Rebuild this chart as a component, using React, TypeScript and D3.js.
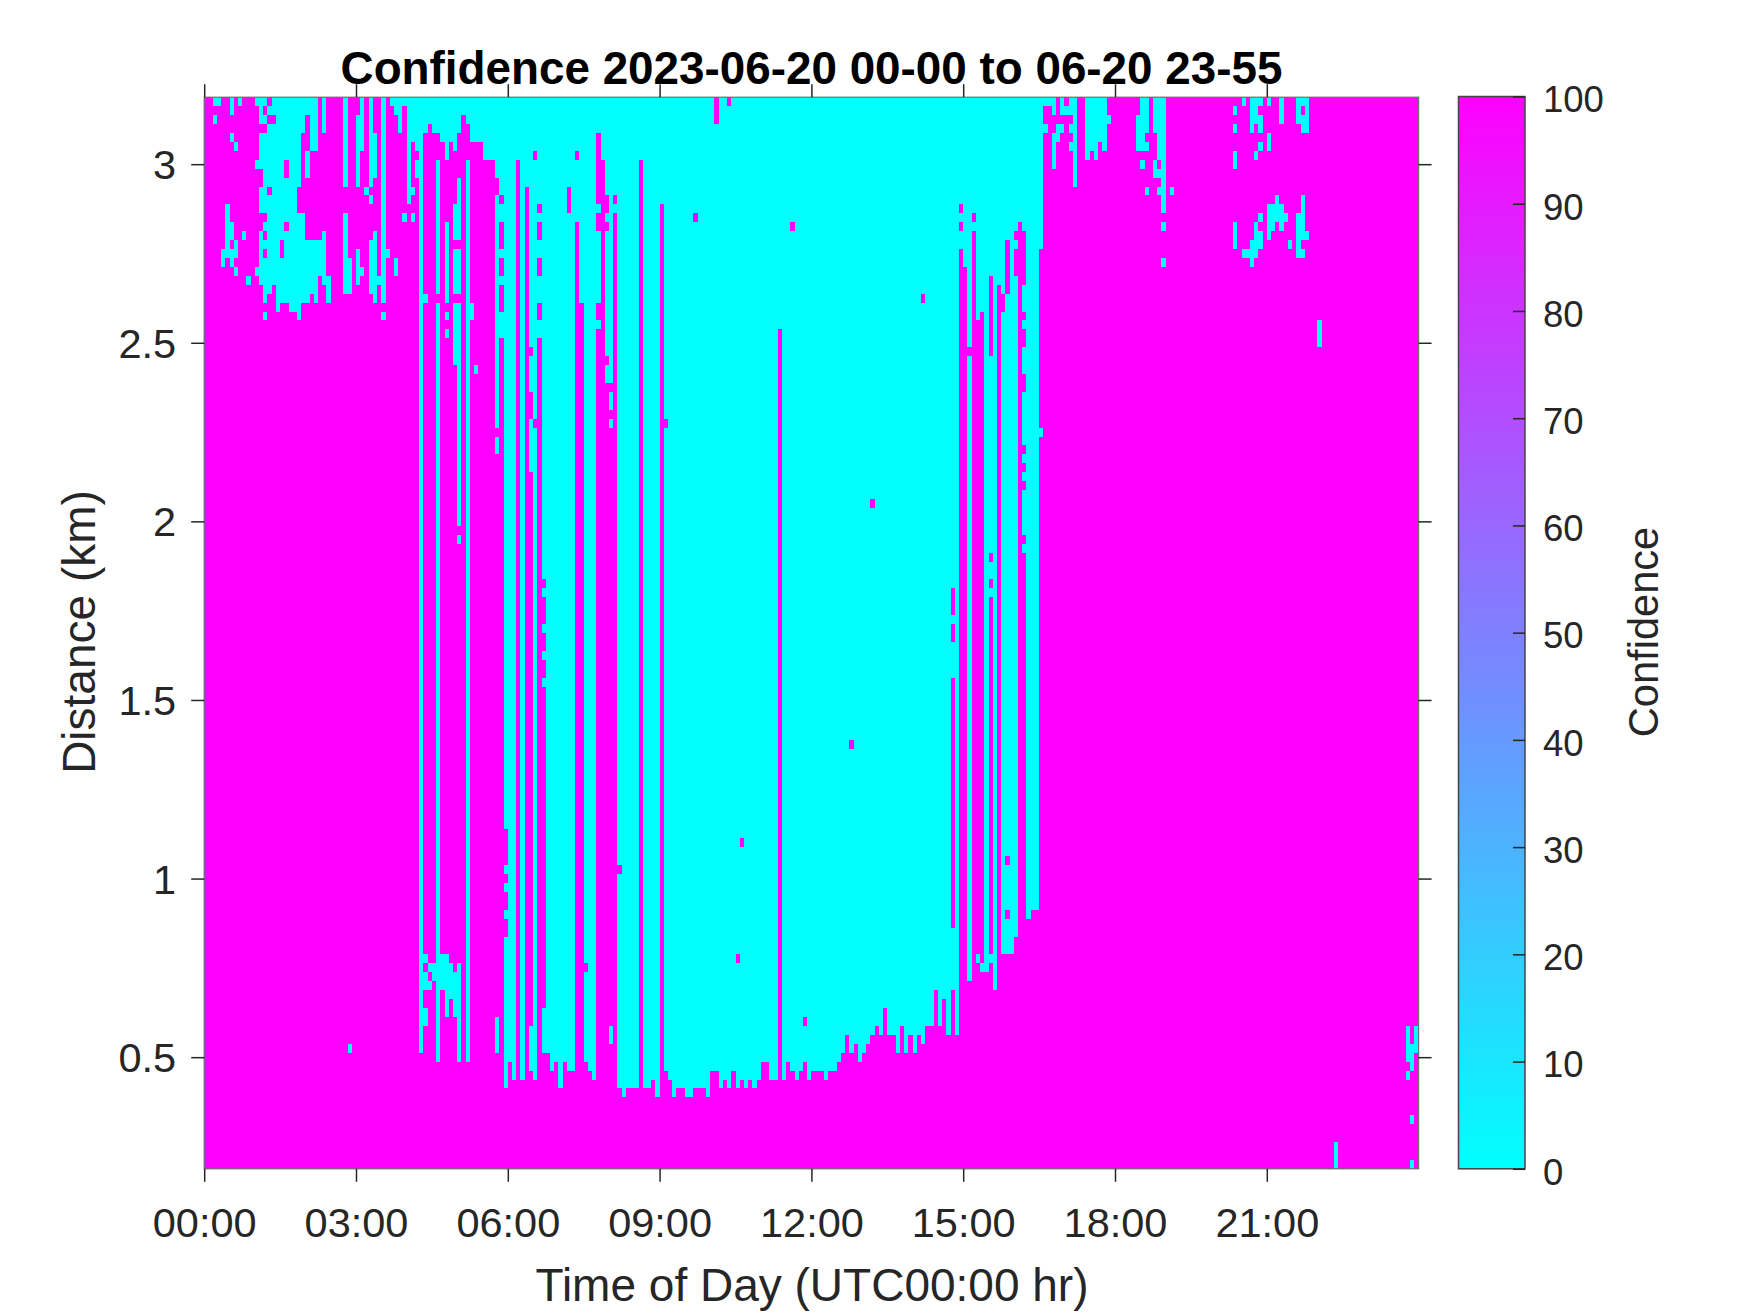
import React, { useEffect, useRef } from 'react';
import * as d3 from 'd3';

const WIDTH = 1750;
const HEIGHT = 1313;
const FONT = '"Liberation Sans", Arial, sans-serif';
const INK = '#262626';

const chartTitle = 'Confidence 2023-06-20 00-00 to 06-20 23-55';
const xAxisLabel = 'Time of Day (UTC00:00 hr)';
const yAxisLabel = 'Distance (km)';
const colorbarLabel = 'Confidence';

const timeTicks = [0, 3, 6, 9, 12, 15, 18, 21];
const distanceTicks = [0.5, 1, 1.5, 2, 2.5, 3];
const confidenceTicks = [0, 10, 20, 30, 40, 50, 60, 70, 80, 90, 100];

// grid of the scan: 5 minute profiles, 25 m range gates, gate 0 is the farthest one
const PROFILES = 288;
const GATES = 120;
const GATE_KM = 0.025;
const FAR_EDGE_KM = 3.1875;

// lowest cloud gate of each profile, starting at profile 44
const CLOUD_START = 44;
const cloudFloor = [
  0, 1, 3, 0, 11, 4, 5, 106, 3, 2, 3, 3, 4, 6, 4, 5, 3, 1, 107, 4, 4, 4, 6, 6, 6, 8, 26, 110, 107, 109,
  6, 109, 9, 108, 109, 26, 106, 106, 108, 107, 110, 107, 108, 108, 13, 22, 107, 108, 109, 3, 6, 31, 31, 12,
  110, 111, 110, 110, 110, 6, 110, 110, 109, 111, 11, 108, 109, 111, 110, 110, 111, 111, 110, 110, 110, 111,
  108, 108, 110, 109, 110, 108, 110, 109, 110, 109, 110, 109, 107, 107, 109, 109, 25, 109, 107, 108, 109,
  108, 107, 109, 108, 108, 108, 109, 108, 108, 107, 106, 104, 106, 105, 107, 106, 105, 104, 103, 104, 101,
  104, 104, 106, 103, 106, 104, 106, 104, 105, 103, 103, 99, 103, 100, 104, 99, 104, 16, 18, 98, 14, 24, 23,
  97, 96, 99, 20, 95, 95, 95, 93, 13, 50, 91, 90, 90, 16,
];

// high confidence gaps inside the cloud block: [first profile, last profile, first gate, last gate]
const clearGaps = [
  [62, 62, 3, 6], [70, 70, 11, 11], [70, 70, 14, 16], [70, 70, 18, 19], [70, 70, 21, 23],
  [71, 71, 82, 85], [71, 71, 87, 87], [71, 71, 89, 90], [71, 71, 92, 93],
  [77, 77, 28, 28], [77, 77, 33, 35], [77, 77, 42, 103], [78, 78, 6, 6], [78, 78, 36, 36],
  [79, 79, 12, 12], [79, 79, 14, 15], [79, 79, 18, 19], [79, 79, 23, 24],
  [80, 80, 54, 54], [80, 80, 56, 58], [80, 80, 60, 61], [80, 80, 63, 64], [80, 80, 66, 101],
  [86, 86, 10, 12], [88, 88, 6, 6], [90, 90, 97, 97], [95, 95, 11, 12], [95, 95, 14, 14], [95, 95, 29, 29],
  [97, 97, 11, 11], [98, 98, 86, 86], [109, 109, 36, 36], [116, 116, 13, 13], [121, 121, 0, 2], [124, 124, 0, 0],
  [126, 126, 96, 96], [127, 127, 83, 83], [139, 139, 14, 14], [142, 142, 103, 103], [153, 153, 72, 72],
  [158, 158, 45, 45], [170, 170, 22, 22], [177, 177, 55, 57], [177, 177, 59, 60], [177, 177, 65, 92],
  [179, 179, 12, 12], [179, 179, 14, 14], [181, 181, 28, 28], [182, 182, 13, 13],
  [186, 186, 20, 28], [186, 186, 51, 51], [186, 186, 54, 54], [186, 186, 56, 95],
  [189, 189, 22, 23], [190, 190, 16, 21], [190, 190, 85, 85], [190, 190, 91, 91],
  [192, 192, 15, 15], [192, 192, 17, 19], [194, 194, 15, 20], [194, 194, 24, 24], [194, 194, 26, 27],
  [194, 194, 31, 32], [194, 194, 39, 39], [194, 194, 41, 41], [194, 194, 43, 43], [194, 194, 49, 49],
];

// low confidence streaks below the floor
const cloudStreaks = [
  [47, 47, 13, 13], [49, 49, 10, 10], [49, 49, 13, 13], [50, 50, 7, 8], [52, 52, 22, 22],
  [55, 55, 7, 21], [55, 55, 23, 107], [57, 57, 14, 22], [57, 57, 24, 24], [57, 57, 26, 26],
  [59, 59, 12, 15], [59, 59, 17, 21], [59, 59, 23, 29], [60, 60, 9, 15], [60, 60, 17, 21],
  [60, 60, 23, 47], [60, 60, 49, 49], [60, 60, 97, 107], [63, 63, 23, 24], [64, 64, 30, 30],
  [69, 69, 11, 36], [69, 69, 38, 39], [69, 69, 103, 106], [93, 93, 12, 12], [93, 93, 15, 22],
  [93, 93, 25, 25], [96, 96, 33, 34], [96, 96, 36, 36], [96, 96, 104, 105], [183, 183, 96, 96],
  [184, 184, 97, 97], [198, 198, 37, 37], [34, 34, 106, 106], [264, 264, 25, 27], [268, 268, 117, 119],
  [285, 285, 104, 107], [285, 285, 109, 109], [286, 286, 106, 108], [286, 286, 114, 114],
  [286, 286, 119, 119], [287, 287, 104, 106],
];

// scattered low confidence profiles, gate by gate
const scatterByGate: [number, string][] = [
  [0, '2-3 6 8 12-14 16-26 28 33 37 39 42 199-201 203 205-206 209-213 222-223 225-227 246 248-250 252 255 259-261'],
  [1, '6 13 15-26 28 33 37 39 42 201 203-206 209-213 222-223 225-227 244 248-249 255 259 261'],
  [2, '2 13-14 17-23 25-26 28 33 36-37 39 42 206 209-214 221-223 225-227 248-250 255 259-261'],
  [3, '15-23 25-26 28 33 36-37 39 42 199 202-203 205-206 209-213 221-223 225-227 244 248 250 260-261'],
  [4, '6 13-22 25-26 33 36-37 39-40 42 201-202 206 209-213 221-222 226-227 252'],
  [5, '7 13-22 25-26 33 36-37 39-40 42 201 205-206 209-211 213 221-223 226-227 250 252'],
  [6, '13-22 24 33 36 39-40 42 201 206 209 211 226-227 249 244'],
  [7, '12-18 20-22 24 33 36 39-40 42 201 206 222 225 227 244'],
  [8, '14-18 20-22 24 33 36 39-40 42 206 225-227'],
  [9, '14-22 33 36 39 42 206 227'],
  [10, '13-14 16-21 38 42 223 226-227 229'],
  [11, '13-21 39 42 227 254 260'],
  [12, '5 13-21 42 227 252-255 260'],
  [13, '5 15-23 33 42 250 252-256 259-260'],
  [14, '5-6 14-18 20-23 33 42 227 244 249 252-253 255 259-260'],
  [15, '5-6 9 13 15-23 28 33 40 42 244 249-250 252 259-261'],
  [16, '5 7 13-17 19-28 33 39-40 42 244 248-250 257 259'],
  [17, '4-7 13 15-17 19-28 33 36 39-40 42-43 246-249 259-260'],
  [18, '4 6 13-28 33-34 36 39-40 42 45 227 248'],
  [19, '7 12-28 33-34 36-37 39-40 42 45'],
  [20, '10 13-26 28-29 33-34 36 39-42'],
  [21, '14-15 17-26 29 33-34 39-40 42'],
  [22, '14 17-24 26 29 40 42'],
  [23, '17 20-22'],
  [24, '14 22 42'],
  [96, '52 56-57'],
  [97, '53-58'],
  [98, '52 54-59'],
  [99, '52-53 56-59'],
  [100, '57-59'],
  [101, '57 59'],
  [102, '52 57 59'],
  [103, '52'],
];

// confidence matrix, [profile][gate]
const buildConfidence = () => {
  const grid = d3.range(PROFILES).map(() => d3.range(GATES).map(() => 100));
  const fill = ([c0, c1, r0, r1]: number[], value: number) => {
    for (let c = c0; c <= c1; c++) for (let r = r0; r <= r1; r++) grid[c][r] = value;
  };
  cloudFloor.forEach((floor, i) => fill([CLOUD_START + i, CLOUD_START + i, 0, floor], 0));
  clearGaps.forEach((g) => fill(g, 100));
  cloudStreaks.forEach((s) => fill(s, 0));
  scatterByGate.forEach(([gate, cols]) => {
    cols.split(' ').forEach((token) => {
      const [a, b] = token.split('-').map(Number);
      fill([a, b === undefined ? a : b, gate, gate], 0);
    });
  });
  return grid;
};

const plot = { left: 204.2, right: 1418.6, top: 97.2, bottom: 1168.8 };
const bar = { left: 1458.5, right: 1525, top: 96.5, bottom: 1168.8 };

const xScale = d3.scaleLinear().domain([0, 24]).range([plot.left, plot.right]);
const yScale = d3.scaleLinear().domain([FAR_EDGE_KM - GATES * GATE_KM, FAR_EDGE_KM]).range([plot.bottom, plot.top]);
const barScale = d3.scaleLinear().domain([0, 100]).range([bar.bottom, bar.top]);
const colorScale = d3.scaleLinear<string>().domain([0, 100]).range(['#00ffff', '#ff00ff']);

const hourLabel = (h: number) => `${String(h).padStart(2, '0')}:00`;

export default function App() {
  const bottomAxis = useRef<SVGGElement>(null);
  const topAxis = useRef<SVGGElement>(null);
  const leftAxis = useRef<SVGGElement>(null);
  const rightAxis = useRef<SVGGElement>(null);
  const barAxis = useRef<SVGGElement>(null);

  useEffect(() => {
    const style = (g: d3.Selection<SVGGElement, unknown, null, undefined>, fontSize: number) => {
      g.select('.domain').remove();
      g.selectAll('line').attr('stroke', INK).attr('stroke-width', 1.5);
      g.selectAll('text').attr('fill', INK).attr('font-family', FONT).attr('font-size', fontSize);
    };
    d3.select(bottomAxis.current!)
      .call(d3.axisBottom(xScale).tickValues(timeTicks).tickFormat((d) => hourLabel(+d)).tickSize(13).tickPadding(26))
      .call(style, 41.5);
    d3.select(topAxis.current!)
      .call(d3.axisTop(xScale).tickValues(timeTicks).tickFormat(() => '').tickSize(13))
      .call(style, 41.5);
    d3.select(leftAxis.current!)
      .call(d3.axisLeft(yScale).tickValues(distanceTicks).tickFormat((d) => String(d)).tickSize(13).tickPadding(15))
      .call(style, 41.5);
    d3.select(leftAxis.current!).selectAll('text').attr('dy', '0.35em');
    d3.select(rightAxis.current!)
      .call(d3.axisRight(yScale).tickValues(distanceTicks).tickFormat(() => '').tickSize(13))
      .call(style, 41.5);
    d3.select(barAxis.current!)
      .call(d3.axisRight(barScale).tickValues(confidenceTicks).tickSize(-12).tickPadding(18))
      .call(style, 36.5);
    d3.select(barAxis.current!).selectAll('text').attr('dy', '0.42em');
  }, []);

  const grid = buildConfidence();
  // one rect per run of equal value along a profile
  const cells: { c: number; r0: number; r1: number; v: number }[] = [];
  grid.forEach((col, c) => {
    let r0 = 0;
    col.forEach((v, r) => {
      if (r === GATES - 1 || col[r + 1] !== v) {
        cells.push({ c, r0, r1: r, v });
        r0 = r + 1;
      }
    });
  });
  const hoursPerProfile = 24 / PROFILES;

  const barSteps = d3.range(0, 100, 100 / 256);

  return (
    <svg width={WIDTH} height={HEIGHT} style={{ position: 'absolute', left: 0, top: 0, display: 'block' }}>
      <rect width={WIDTH} height={HEIGHT} fill="#ffffff" />

      {/* Heat map */}
      <g shapeRendering="crispEdges">
        {cells.map((d, i) => (
          <rect
            key={i}
            x={xScale(d.c * hoursPerProfile)}
            width={xScale((d.c + 1) * hoursPerProfile) - xScale(d.c * hoursPerProfile)}
            y={yScale(FAR_EDGE_KM - d.r0 * GATE_KM)}
            height={yScale(FAR_EDGE_KM - (d.r1 + 1) * GATE_KM) - yScale(FAR_EDGE_KM - d.r0 * GATE_KM)}
            fill={colorScale(d.v)}
          />
        ))}
      </g>

      {/* Axes */}
      <rect x={plot.left} y={plot.top} width={plot.right - plot.left} height={plot.bottom - plot.top}
        fill="none" stroke="#6f6f6f" strokeWidth={1.2} />
      <g ref={bottomAxis} transform={`translate(0, ${plot.bottom})`} />
      <g ref={topAxis} transform={`translate(0, ${plot.top})`} />
      <g ref={leftAxis} transform={`translate(${plot.left}, 0)`} />
      <g ref={rightAxis} transform={`translate(${plot.right}, 0)`} />

      {/* Colorbar */}
      <g shapeRendering="crispEdges">
        {barSteps.map((v) => (
          <rect key={v} x={bar.left} width={bar.right - bar.left} y={barScale(v + 100 / 256)}
            height={barScale(v) - barScale(v + 100 / 256) + 0.5} fill={colorScale(v)} />
        ))}
      </g>
      <rect x={bar.left} y={bar.top} width={bar.right - bar.left} height={bar.bottom - bar.top}
        fill="none" stroke="#444444" strokeWidth={1.5} />
      <g ref={barAxis} transform={`translate(${bar.right}, 0)`} />

      {/* Labels */}
      <text x={811.5} y={84} textAnchor="middle" fontFamily={FONT} fontWeight="bold" fontSize={45.8} fill="#000000">
        {chartTitle}
      </text>
      <text x={812} y={1301} textAnchor="middle" fontFamily={FONT} fontSize={46} fill={INK}>
        {xAxisLabel}
      </text>
      <text transform="translate(95, 632) rotate(-90)" textAnchor="middle" fontFamily={FONT} fontSize={46} fill={INK}>
        {yAxisLabel}
      </text>
      <text transform="translate(1658, 632) rotate(-90)" textAnchor="middle" fontFamily={FONT} fontSize={41.6} fill={INK}>
        {colorbarLabel}
      </text>
    </svg>
  );
}
